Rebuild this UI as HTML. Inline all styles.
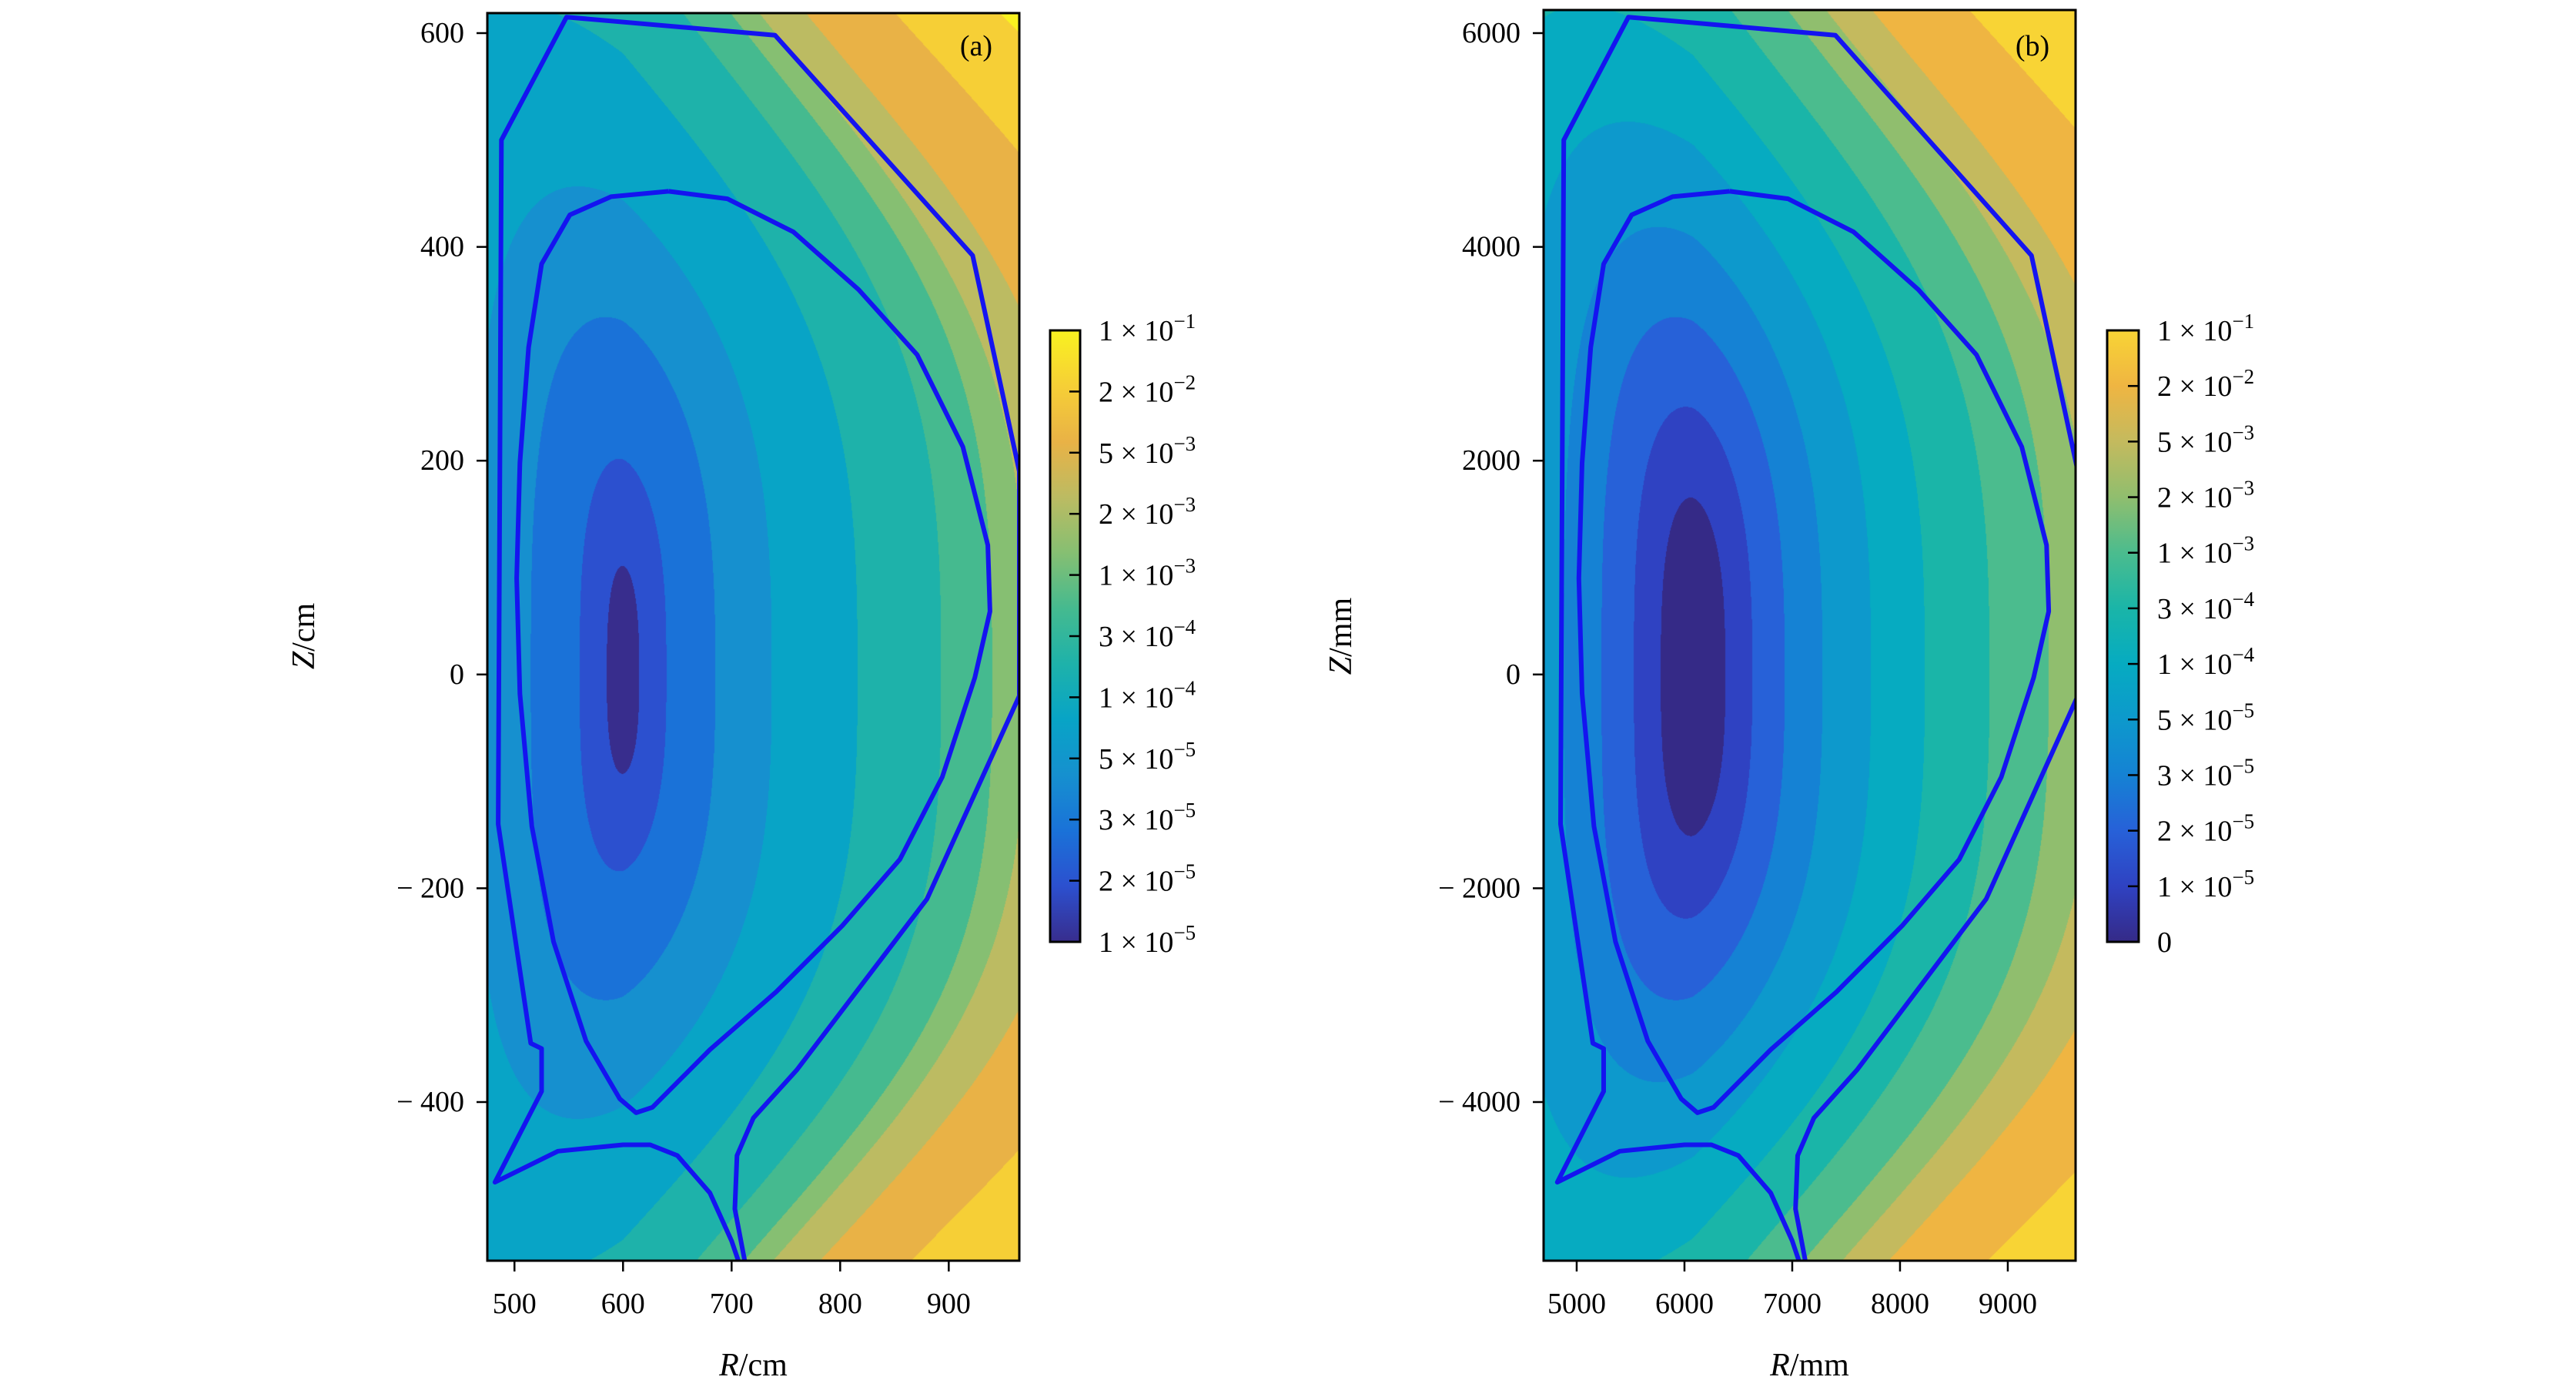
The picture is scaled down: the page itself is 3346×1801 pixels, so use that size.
<!DOCTYPE html>
<html><head><meta charset="utf-8"><style>
html,body{margin:0;padding:0;background:#fff}
#wrap{position:relative;width:3346px;height:1801px;overflow:hidden;font-family:"Liberation Serif",serif}
canvas{position:absolute}
svg{position:absolute;left:0;top:0}
</style></head><body>
<div id="wrap">
<canvas id="ca" style="left:633px;top:17px" width="691" height="1620"></canvas>
<canvas id="cb" style="left:2005px;top:13px" width="691" height="1624"></canvas>
<svg id="svg" width="3346" height="1801"></svg>
</div>
<script>
// ---- data ----
const boundsA = [15, 40, 85, 137, 216, 293, 340, 370, 420, 520, 640];
const colorsA = ["#382d8d","#2c50cf","#1a72d8","#1690cf","#08a4c6","#1eb2aa","#45ba8f","#86bf72","#bcbb62","#e9b246","#f6cf36","#f9f220"];
const boundsB = [30, 55, 85, 120, 165, 215, 275, 330, 370, 420, 530];
const colorsB = ["#352a87","#2f42c2","#2761d8","#1582d4","#0d99cc","#06abc1","#1ab5a8","#4bbc8e","#90be6e","#c4ba5e","#efb542","#f8d435"];
const cbLabelsA = ["1","2","5","2","1","3","1","5","3","2","1"];
const cbExpA = ["1","2","3","3","3","4","4","5","5","5","5"];
const cbLabelsB = ["1","2","5","2","1","3","1","5","3","2","1","0"];
const cbExpB = ["1","2","3","3","3","4","4","5","5","5","5",""];
const xTicksA = [500,600,700,800,900];
const yTicksA = [600,400,200,0,-200,-400];
const xTicksB = [5000,6000,7000,8000,9000];
const yTicksB = [6000,4000,2000,0,-2000,-4000];
// outlines in cm
const plasmaR = [642,696,757,817,871,913,936,938,924,894,855,802,741,680,627,612,597,566,536,516,505,502,505,513,525,551,589,642];
const plasmaZ = [452,445,414,360,299,213,121,59,-3,-96,-173,-235,-297,-351,-405,-410,-397,-343,-250,-142,-18,90,198,306,384,430,447,452];
const wallR = [712,703,705,720,760,880,965,965,922,740,548,488,485,515,525,525,482,540,600,625,650,680,700,706];
const wallZ = [-548,-500,-450,-415,-370,-210,-20,190,392,598,615,500,-140,-345,-350,-390,-475,-446,-440,-440,-450,-485,-530,-548];

const NS="http://www.w3.org/2000/svg";
const svg=document.getElementById('svg');
function el(tag,attrs,parent){const e=document.createElementNS(NS,tag);for(const k in attrs)e.setAttribute(k,attrs[k]);(parent||svg).appendChild(e);return e;}

function makePanel(cfg){
  const sx=v=>cfg.x0+(v-cfg.rmin)/(cfg.rmax-cfg.rmin)*(cfg.x1-cfg.x0);
  const sy=v=>cfg.yRef+(cfg.zRef-v)*cfg.zs;
  const cv=document.getElementById(cfg.canvas);const ctx=cv.getContext('2d');
  const W=cv.width,H=cv.height;const img=ctx.createImageData(W,H);
  const rgb=cfg.colors.map(c=>[parseInt(c.substr(1,2),16),parseInt(c.substr(3,2),16),parseInt(c.substr(5,2),16)]);
  for(let j=0;j<H;j++){
    let Z=(cfg.zRef-((j+cfg.y0)-cfg.yRef)/cfg.zs)/cfg.unit;
    if(Z<0)Z*=1.1;
    const core=0.08*Math.abs(Z)*Math.exp(-(Z*Z)/90000);
    const h=Math.sqrt(360000+0.9*Z*Z)-600+core;
    for(let i=0;i<W;i++){
      const R=(cfg.rmin+(i+0.5)/W*(cfg.rmax-cfg.rmin))/cfg.unit-(cfg.c-600);
      const dx=R-600;
      const hh=h*(dx>0?(1+dx/280):(1+dx/450));
      const d=Math.sqrt(dx*dx+hh*hh);
      let L=0;while(L<cfg.bounds.length&&d>cfg.bounds[L])L++;
      const c=rgb[L];const p=(j*W+i)*4;
      img.data[p]=c[0];img.data[p+1]=c[1];img.data[p+2]=c[2];img.data[p+3]=255;
    }
  }
  ctx.putImageData(img,0,0);
  const g=el('g',{});
  
  
  const pts=(Rs,Zs)=>Rs.map((r,k)=>sx(r*cfg.unit).toFixed(1)+','+sy(Zs[k]*cfg.unit).toFixed(1)).join(' ');
  const cp=el('clipPath',{id:'clip'+cfg.name},g);
  el('rect',{x:cfg.x0,y:cfg.y0,width:cfg.x1-cfg.x0,height:cfg.y1-cfg.y0},cp);
  const w=el('polyline',{points:pts(wallR,wallZ),fill:'none',stroke:'#1414f0','stroke-width':6,'stroke-linejoin':'round','clip-path':'url(#clip'+cfg.name+')'},g);
  
  
  const pl=el('polyline',{points:pts(plasmaR,plasmaZ),fill:'none',stroke:'#1414f0','stroke-width':6,'stroke-linejoin':'round'},g);
  
  
  el('rect',{x:cfg.x0,y:cfg.y0,width:cfg.x1-cfg.x0,height:cfg.y1-cfg.y0,fill:'none',stroke:'#000','stroke-width':3},g);
  cfg.xt.forEach(v=>{const x=sx(v);
    el('line',{x1:x,x2:x,y1:cfg.y1,y2:cfg.y1+14,stroke:'#000','stroke-width':2.5},g);
    const t=el('text',{x:x,y:cfg.y1+68,'text-anchor':'middle','font-size':38},g);t.textContent=v;
    
    });
  cfg.yt.forEach(v=>{const y=sy(v);
    el('line',{x1:cfg.x0-14,x2:cfg.x0,y1:y,y2:y,stroke:'#000','stroke-width':2.5},g);
    const t=el('text',{x:cfg.x0-30,y:y+12,'text-anchor':'end','font-size':38},g);t.textContent=(v<0?'\u2212 ':'')+Math.abs(v);
    
    });
  const xl=el('text',{x:(cfg.x0+cfg.x1)/2,y:1786,'text-anchor':'middle','font-size':42},g);
  xl.innerHTML='<tspan font-style="italic">R</tspan>/'+cfg.u;
  
  
  const yl=el('text',{x:0,y:0,'text-anchor':'middle','font-size':42,transform:'translate('+(cfg.x0-cfg.ylOff)+',826) rotate(-90)'},g);
  yl.innerHTML='<tspan font-style="italic">Z</tspan>/'+cfg.u;
  
  
  const pt=el('text',{x:cfg.x1-56,y:72,'text-anchor':'middle','font-size':38},g);pt.textContent=cfg.tag;
  
  
  const gid='grad'+cfg.name;
  const lg=el('linearGradient',{id:gid,x1:0,y1:1,x2:0,y2:0},g);
  cfg.colors.forEach((c,k)=>el('stop',{offset:(k/(cfg.colors.length-1)),'stop-color':c},lg));
  const cb=el('rect',{x:cfg.cbx,y:429,width:cfg.cbw,height:794,fill:'url(#'+gid+')',stroke:'#000','stroke-width':3},g);
  
  
  const n=cfg.cbl.length;
  cfg.cbl.forEach((m,k)=>{const y=429+k*794/(n-1);
    if(k>0&&k<n-1)el('line',{x1:cfg.cbx+cfg.cbw-14,x2:cfg.cbx+cfg.cbw,y1:y,y2:y,stroke:'#000','stroke-width':2.5},g);
    const t=el('text',{x:cfg.cbx+cfg.cbw+24,y:y+13,'font-size':38},g);
    t.innerHTML=cfg.cbe[k]===''?m:m+' \u00d7 10<tspan dy="-16" font-size="27">\u2212'+cfg.cbe[k]+'</tspan>';
    
    });
}
makePanel({name:'a',canvas:'ca',x0:633,x1:1324,y0:17,y1:1637,rmin:475,rmax:965,yRef:43,zRef:600,zs:1.388,unit:1,c:600,
  bounds:boundsA,colors:colorsA,xt:xTicksA,yt:yTicksA,u:'cm',tag:'(a)',ylOff:225,cbx:1364,cbw:39,cbl:cbLabelsA,cbe:cbExpA});
makePanel({name:'b',canvas:'cb',x0:2005,x1:2696,y0:13,y1:1637,rmin:4693,rmax:9629,yRef:43,zRef:6000,zs:0.1388,unit:10,c:608,
  bounds:boundsB,colors:colorsB,xt:xTicksB,yt:yTicksB,u:'mm',tag:'(b)',ylOff:250,cbx:2737,cbw:41,cbl:cbLabelsB,cbe:cbExpB});
</script>
</body></html>
